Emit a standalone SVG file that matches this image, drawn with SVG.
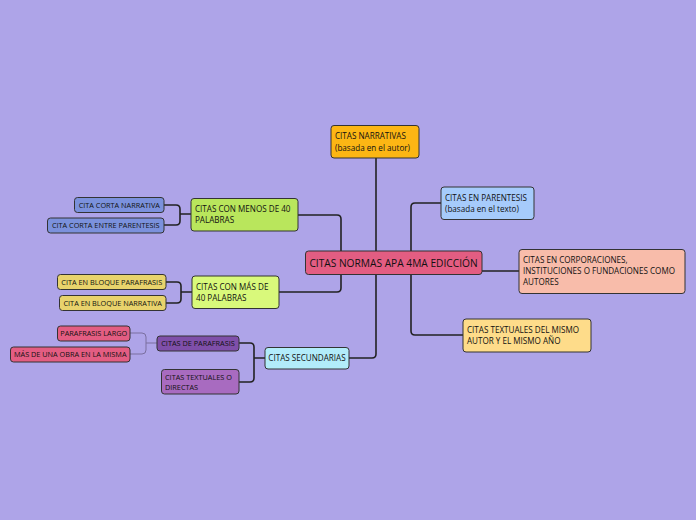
<svg xmlns="http://www.w3.org/2000/svg" width="696" height="520" viewBox="0 0 696 520">
<style>
text{font-family:"Open Sans","Noto Sans","Liberation Sans",sans-serif;fill:#111;font-size:8.1px}
.n{stroke:#333;stroke-width:1}
.s{font-size:7.3px}
.c{fill:none;stroke:#222;stroke-width:1.6}
.l{fill:none;stroke:#7a6f9f;stroke-width:1}
</style>
<rect width="696" height="520" fill="#aea4e8"/>
<g id="connectors">
<path class="c" d="M376 158V251"/>
<path class="c" d="M411 251V207Q411 203 415 203H441"/>
<path class="c" d="M482 271H519"/>
<path class="c" d="M411 274V331Q411 335 415 335H463"/>
<path class="c" d="M341 251V219Q341 215 337 215H298"/>
<path class="c" d="M341 274V288Q341 292 337 292H279"/>
<path class="c" d="M376 274V354Q376 358 372 358H349"/>
<path class="c" d="M164 205H176Q180 205 180 209V221Q180 225 176 225H164M180 214H191"/>
<path class="c" d="M166 282H177Q181 282 181 286V299Q181 303 177 303H166M181 292H192"/>
<path class="c" d="M239 343H250Q254 343 254 347V378Q254 382 250 382H239M254 358H265"/>
<path class="l" d="M130 333H142Q146 333 146 337V350Q146 354 142 354H130M146 343H157"/>
</g>
<g id="central"><rect class="n" x="305.5" y="251" width="176.5" height="23.5" rx="3" fill="#e35d82"/><text x="393.5" y="266.5" text-anchor="middle" style="font-size:10.2px">CITAS NORMAS APA 4MA EDICCIÓN</text></g>
<g id="narrativas"><rect class="n" x="331" y="125.5" width="88" height="32.5" rx="3" fill="#fcb614"/><text x="335" y="139">CITAS NARRATIVAS</text><text x="335" y="151">(basada en el autor)</text></g>
<g id="parentesis"><rect class="n" x="441" y="187" width="93" height="32.5" rx="3" fill="#a6cbfb"/><text x="445" y="201">CITAS EN PARENTESIS</text><text x="445" y="212">(basada en el texto)</text></g>
<g id="corporaciones"><rect class="n" x="519" y="249.5" width="166" height="44" rx="3" fill="#f8bcaa"/><text x="523" y="263">CITAS EN CORPORACIONES,</text><text x="523" y="274">INSTITUCIONES O FUNDACIONES COMO</text><text x="523" y="285">AUTORES</text></g>
<g id="textuales-mismo"><rect class="n" x="463" y="319" width="128" height="33" rx="3" fill="#fedc8a"/><text x="467" y="333">CITAS TEXTUALES DEL MISMO</text><text x="467" y="344">AUTOR Y EL MISMO AÑO</text></g>
<g id="menos40"><rect class="n" x="191" y="198.5" width="107" height="32.5" rx="3" fill="#b9e65c"/><text x="195" y="212">CITAS CON MENOS DE 40</text><text x="195" y="223">PALABRAS</text></g>
<g id="mas40"><rect class="n" x="192" y="276" width="87" height="32.5" rx="3" fill="#d9f97b"/><text x="196" y="290">CITAS CON MÁS DE</text><text x="196" y="301">40 PALABRAS</text></g>
<g id="corta-narrativa"><rect class="n" x="74.5" y="197.5" width="89.5" height="15" rx="3" fill="#7b91dc"/><text class="s" x="119.25" y="207.5" text-anchor="middle">CITA CORTA NARRATIVA</text></g>
<g id="corta-parentesis"><rect class="n" x="47.5" y="218" width="116.5" height="15" rx="3" fill="#7b91dc"/><text class="s" x="105.75" y="228" text-anchor="middle">CITA CORTA ENTRE PARENTESIS</text></g>
<g id="bloque-parafrasis"><rect class="n" x="57.5" y="274.5" width="108.5" height="15" rx="3" fill="#e8d36c"/><text class="s" x="111.75" y="284.5" text-anchor="middle">CITA EN BLOQUE PARAFRASIS</text></g>
<g id="bloque-narrativa"><rect class="n" x="59.5" y="295.5" width="106.5" height="15" rx="3" fill="#e8d36c"/><text class="s" x="112.75" y="305.5" text-anchor="middle">CITA EN BLOQUE NARRATIVA</text></g>
<g id="secundarias"><rect class="n" x="265" y="347.5" width="84" height="21.5" rx="3" fill="#b2ecfa"/><text x="307" y="361" text-anchor="middle">CITAS SECUNDARIAS</text></g>
<g id="de-parafrasis"><rect class="n" x="157" y="336" width="82" height="15" rx="3" fill="#7f4fa9"/><text class="s" x="198" y="346" text-anchor="middle">CITAS DE PARAFRASIS</text></g>
<g id="textuales-directas"><rect class="n" x="161.5" y="369.5" width="77.5" height="24.5" rx="3" fill="#a86bc0"/><text class="s" x="165" y="379.5">CITAS TEXTUALES O</text><text class="s" x="165" y="390">DIRECTAS</text></g>
<g id="parafrasis-largo"><rect class="n" x="57.5" y="326" width="72.5" height="15" rx="3" fill="#e35d82"/><text class="s" x="93.75" y="336" text-anchor="middle">PARAFRASIS LARGO</text></g>
<g id="mas-de-una-obra"><rect class="n" x="10.5" y="347" width="119.5" height="15" rx="3" fill="#e35d82"/><text class="s" x="70.25" y="357" text-anchor="middle">MÁS DE UNA OBRA EN LA MISMA</text></g>
</svg>
